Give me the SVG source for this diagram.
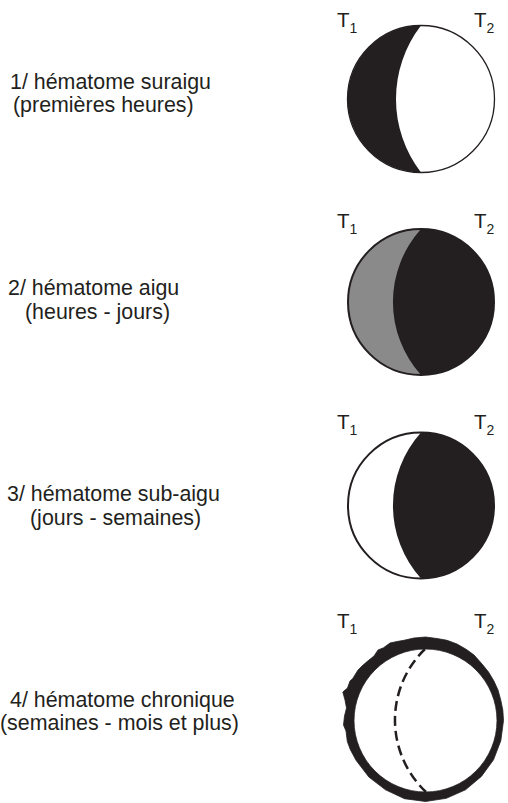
<svg xmlns="http://www.w3.org/2000/svg" width="508" height="803" viewBox="0 0 508 803">
  <style>
    .lbl { font-family: "Liberation Sans", Arial, Helvetica, sans-serif; font-size: 21.4px; fill: #231f20; }
    .t { font-family: "Liberation Sans", Arial, Helvetica, sans-serif; font-size: 20.5px; fill: #231f20; }
    .sub { font-size: 14px; }
    .ink { fill: #231f20; }
    .edge { fill: none; stroke: #231f20; }
  </style>
  <rect width="508" height="803" fill="#ffffff"/>

  <!-- 1/ hyperacute -->
  <g id="stage1">
    <text class="lbl" x="10" y="89">1/ hématome suraigu</text>
    <text class="lbl" x="13" y="112">(premières heures)</text>
    <text class="t" x="337" y="27">T<tspan class="sub" dy="6">1</tspan></text>
    <text class="t" x="474" y="27">T<tspan class="sub" dy="6">2</tspan></text>
    <path class="ink" d="M421,25.5 A73.5,73.5 0 0,0 421,172.5 A120.5,120.5 0 0,1 421,25.5 Z"/>
    <circle class="edge" cx="421" cy="99" r="73.5" stroke-width="1.3"/>
  </g>

  <!-- 2/ acute -->
  <g id="stage2">
    <text class="lbl" x="8" y="295">2/ hématome aigu</text>
    <text class="lbl" x="25" y="319">(heures - jours)</text>
    <text class="t" x="337" y="228">T<tspan class="sub" dy="6">1</tspan></text>
    <text class="t" x="474" y="228">T<tspan class="sub" dy="6">2</tspan></text>
    <circle class="ink" cx="421" cy="302" r="73"/>
    <path d="M421,229 A73,73 0 0,0 421,375 A109,109 0 0,1 421,229 Z" fill="#8a8a8a"/>
    <circle class="edge" cx="421" cy="302" r="73" stroke-width="2"/>
  </g>

  <!-- 3/ subacute -->
  <g id="stage3">
    <text class="lbl" x="7" y="501">3/ hématome sub-aigu</text>
    <text class="lbl" x="30" y="525">(jours - semaines)</text>
    <text class="t" x="337" y="429">T<tspan class="sub" dy="6">1</tspan></text>
    <text class="t" x="474" y="429">T<tspan class="sub" dy="6">2</tspan></text>
    <circle class="ink" cx="421" cy="505.5" r="73"/>
    <path d="M421,432.5 A73,73 0 0,0 421,578.5 A109,109 0 0,1 421,432.5 Z" fill="#ffffff"/>
    <circle class="edge" cx="421" cy="505.5" r="73" stroke-width="2"/>
  </g>

  <!-- 4/ chronic -->
  <g id="stage4">
    <text class="lbl" x="10" y="707">4/ hématome chronique</text>
    <text class="lbl" x="0" y="730">(semaines - mois et plus)</text>
    <text class="t" x="337" y="628">T<tspan class="sub" dy="6">1</tspan></text>
    <text class="t" x="474" y="628">T<tspan class="sub" dy="6">2</tspan></text>
    <!-- irregular thick capsule: rough outer edge, round inner edge -->
    <path class="ink" fill-rule="evenodd" stroke="#231f20" stroke-width="0.8" stroke-linejoin="round" d="
      M503.5,720.5 L500.8,740.7 L493.5,759.8 L481.4,776.4 L465.5,789.8 L446.3,798.3 L425.5,801.5
      L404.5,798.7 L385.5,789.8 L368.9,777.1 L356.2,760.5 L350.5,750 L347.3,741.5 L346,731
      L343.5,725 L344.5,716 L346.5,708 L345,700 L342.8,692 L347.5,688 L350,681 L352.8,678.5
      L358,670 L362,666 L366.8,661.8 L374,656 L378,650 L383.5,647.8 L390,643 L397,641.5 L404,640.3
      L414,638 L425.5,637 L437,638.5 L447,640.3 L457,644 L466.5,649.5 L474,655 L482.1,664.1
      L488.5,672 L493.9,681 L498,690 L500.8,700.3 L502.8,710 Z
      M354,720.5 A71.5,71.5 0 1,0 497,720.5 A71.5,71.5 0 1,0 354,720.5 Z"/>
    <path class="edge" d="M425,649 A99,99 0 0,0 426,792" stroke-width="2.5" stroke-dasharray="10 5"/>
  </g>
</svg>
